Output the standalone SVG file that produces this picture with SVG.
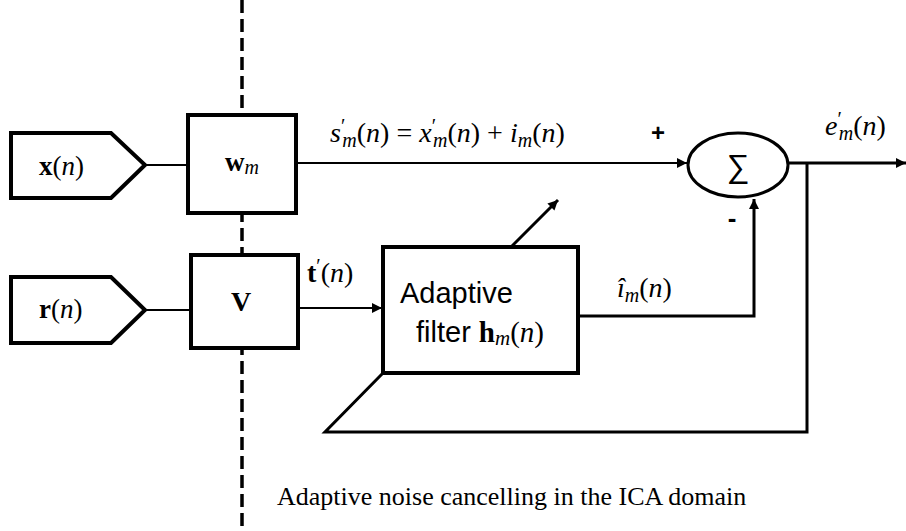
<svg xmlns="http://www.w3.org/2000/svg" width="906" height="531" viewBox="0 0 906 531">
<defs>
<marker id="arr" viewBox="0 0 10 10" refX="10" refY="5" markerWidth="10" markerHeight="10" markerUnits="userSpaceOnUse" orient="auto">
<path d="M0,0 L10,5 L0,10 z" fill="#000"/>
</marker>
<style>
.box{fill:#fff;stroke:#000;stroke-width:4}
.ln{fill:none;stroke:#000;stroke-width:2}
.lnb{fill:none;stroke:#000;stroke-width:3}
.m{font-family:"Liberation Serif","Times New Roman",serif;fill:#000}
.s{font-family:"Liberation Sans",Arial,sans-serif;fill:#000}
.i{font-style:italic}
.b{font-weight:bold}
</style>
</defs>
<rect width="906" height="531" fill="#fff"/>
<line x1="242" y1="0" x2="242" y2="531" stroke="#000" stroke-width="3.5" stroke-dasharray="13 6" id="divider"/>
<g id="connectors">
<line class="ln" x1="145" y1="165" x2="188" y2="165"/>
<line class="ln" x1="145" y1="310" x2="191" y2="310"/>
<line class="ln" x1="296" y1="163" x2="687" y2="163" marker-end="url(#arr)"/>
<line class="lnb" x1="789" y1="163" x2="906" y2="163" marker-end="url(#arr)"/>
<line class="ln" x1="298" y1="308" x2="382" y2="308" marker-end="url(#arr)"/>
<polyline class="lnb" points="578,316 754,316 754,199" marker-end="url(#arr)"/>
<polyline class="lnb" points="807,163 807,432 325,432 383,373"/>
<line class="lnb" x1="512" y1="246" x2="558" y2="200" marker-end="url(#arr)"/>
</g>
<g id="x-input">
<polygon class="box" points="11,133 111,133 145,165 111,198 11,198"/>
<text class="m" x="39" y="175" font-size="27"><tspan class="b">x</tspan>(<tspan class="i">n</tspan>)</text>
</g>
<g id="r-input">
<polygon class="box" points="11,277 111,277 145,310 111,343 11,343"/>
<text class="m" x="39" y="318" font-size="27"><tspan class="b">r</tspan>(<tspan class="i">n</tspan>)</text>
</g>
<g id="wm">
<rect class="box" x="188" y="115" width="108" height="98"/>
<text class="m" x="225" y="171" font-size="27"><tspan class="b">w</tspan><tspan class="i" font-size="20" dy="3">m</tspan></text>
</g>
<g id="v">
<rect class="box" x="191" y="255" width="107" height="93"/>
<text class="m b" x="231" y="311" font-size="28">V</text>
</g>
<g id="filter">
<rect class="box" x="383" y="247" width="195" height="126"/>
<text class="s" x="400" y="303" font-size="29">Adaptive</text>
<text class="s" x="416" y="342" font-size="29">filter <tspan class="m b">h</tspan><tspan class="m i" font-size="21" dy="3">m</tspan><tspan class="m" dy="-3">(</tspan><tspan class="m i">n</tspan><tspan class="m">)</tspan></text>
</g>
<g id="sum">
<ellipse cx="738" cy="165" rx="50" ry="32" fill="#fff" stroke="#000" stroke-width="3"/>
<text class="s" x="738" y="177" font-size="32" text-anchor="middle">∑</text>
</g>
<g id="labels">
<text class="m" x="330" y="142" font-size="28"><tspan class="i">s</tspan><tspan dy="-9" font-size="20">′</tspan><tspan class="i" font-size="20" dx="-3" dy="14">m</tspan><tspan dy="-5">(</tspan><tspan class="i">n</tspan>) = <tspan class="i">x</tspan><tspan dy="-9" font-size="20">′</tspan><tspan class="i" font-size="20" dx="-3" dy="14">m</tspan><tspan dy="-5">(</tspan><tspan class="i">n</tspan>) + <tspan class="i">i</tspan><tspan class="i" font-size="20" dy="5">m</tspan><tspan dy="-5">(</tspan><tspan class="i">n</tspan>)</text>
<text class="m" x="307" y="282" font-size="28"><tspan class="b">t</tspan><tspan dy="-9" font-size="20">′</tspan><tspan dy="9">(</tspan><tspan class="i">n</tspan>)</text>
<text class="s b" x="658" y="141" font-size="24" text-anchor="middle">+</text>
<text class="s b" x="732" y="227" font-size="26" text-anchor="middle">-</text>
<text class="m" x="825" y="135" font-size="28"><tspan class="i">e</tspan><tspan dy="-9" font-size="20">′</tspan><tspan class="i" font-size="20" dx="-3" dy="14">m</tspan><tspan dy="-5">(</tspan><tspan class="i">n</tspan>)</text>
<text class="m" x="617" y="297" font-size="28"><tspan class="i">î</tspan><tspan class="i" font-size="20" dy="5">m</tspan><tspan dy="-5">(</tspan><tspan class="i">n</tspan>)</text>
<text class="m" x="277" y="505" font-size="26">Adaptive noise cancelling in the ICA domain</text>
</g>
</svg>
